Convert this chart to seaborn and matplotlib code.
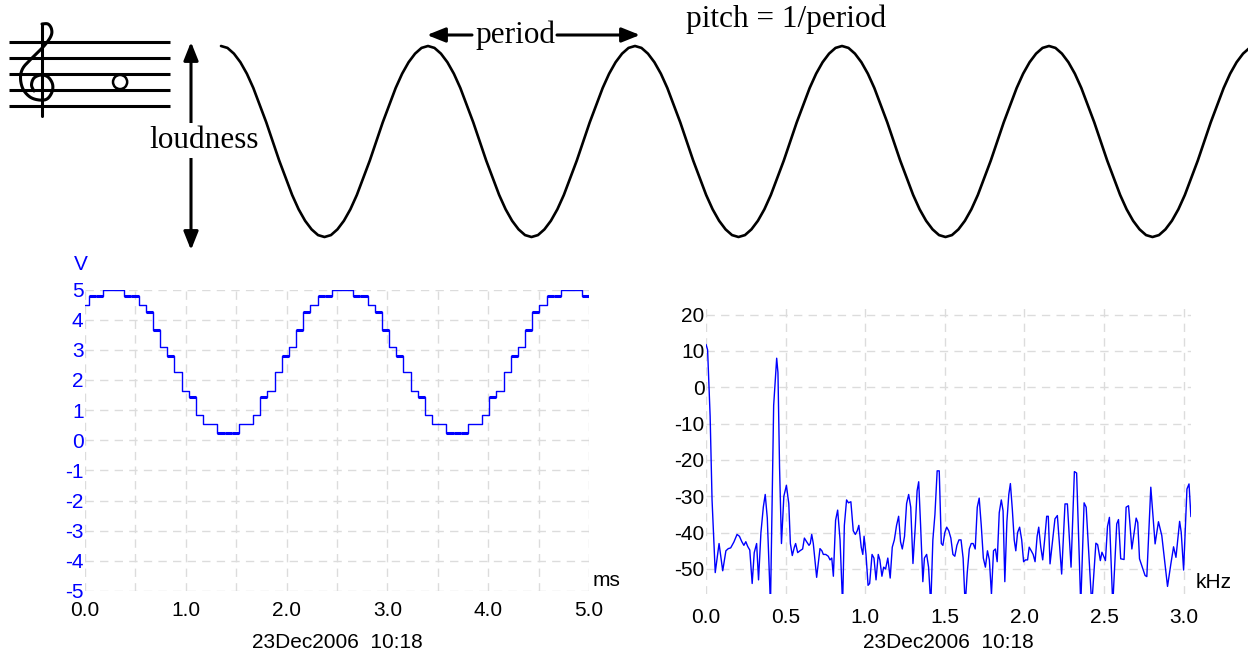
import numpy as np
import matplotlib
matplotlib.use("Agg")
import matplotlib.pyplot as plt
import seaborn as sns
import pandas as pd

#################################################################################
## DATA
# top sketch: one period of the drawn wave (normalised), tiled over 5 periods
half_cycle = [1.0, 0.98, 0.92, 0.83, 0.71, 0.56, 0.38, 0.20, 0.0,
              -0.20, -0.38, -0.56, -0.71, -0.83, -0.92, -0.98, -1.0]
n_periods = 5

# staff: lines E4 G4 B4 D5 F5 in staff steps, note A4 (440 Hz)
staff_lines = [0, 2, 4, 6, 8]
note_step = 3

# scope trace (V), one level per ADC sample
first_level = [4.5]
cycle_levels = [4.78, 4.78, 5.0, 5.0, 5.0, 4.78, 4.78, 4.5, 4.25, 3.65, 3.1, 2.8,
                2.25, 1.65, 1.45, 0.85, 0.55, 0.55, 0.25, 0.25, 0.25, 0.55, 0.55,
                0.85, 1.45, 1.65, 2.25, 2.8, 3.1, 3.65, 4.25, 4.5]
noisy_levels = [4.78, 4.25, 3.65, 2.8, 1.45, 0.25]
sample_ms = 0.0710
first_edge_ms = 0.035
scope_end_ms = 5.0

# spectrum (dB vs kHz)
freq_khz = [
    0.000, 0.010, 0.026, 0.038, 0.058, 0.082, 0.105, 0.125, 0.140, 0.155,
    0.175, 0.195, 0.210, 0.225, 0.238, 0.250, 0.262, 0.275, 0.290, 0.303,
    0.318, 0.330, 0.345, 0.360, 0.372, 0.385, 0.405, 0.425, 0.444, 0.452,
    0.462, 0.474, 0.489, 0.505, 0.520, 0.530, 0.542, 0.555, 0.563, 0.576,
    0.590, 0.607, 0.618, 0.632, 0.647, 0.655, 0.664, 0.674, 0.695, 0.716,
    0.728, 0.737, 0.752, 0.768, 0.779, 0.790, 0.800, 0.814, 0.827, 0.842,
    0.858, 0.869, 0.883, 0.895, 0.910, 0.925, 0.938, 0.950, 0.960, 0.975,
    0.985, 0.993, 1.005, 1.018, 1.028, 1.043, 1.055, 1.068, 1.082, 1.092,
    1.105, 1.116, 1.128, 1.142, 1.157, 1.170, 1.183, 1.197, 1.210, 1.222,
    1.233, 1.247, 1.260, 1.273, 1.286, 1.300, 1.315, 1.326, 1.336, 1.348,
    1.362, 1.372, 1.386, 1.398, 1.412, 1.425, 1.438, 1.452, 1.465, 1.478,
    1.488, 1.500, 1.512, 1.525, 1.538, 1.551, 1.563, 1.576, 1.589, 1.602,
    1.615, 1.628, 1.641, 1.654, 1.666, 1.678, 1.691, 1.704, 1.716, 1.729,
    1.742, 1.755, 1.768, 1.780, 1.793, 1.806, 1.818, 1.829, 1.842, 1.855,
    1.866, 1.877, 1.890, 1.902, 1.912, 1.924, 1.936, 1.946, 1.957, 1.970,
    1.983, 1.995, 2.007, 2.020, 2.030, 2.043, 2.055, 2.067, 2.080, 2.090,
    2.103, 2.115, 2.127, 2.140, 2.150, 2.161, 2.192, 2.207, 2.234, 2.255,
    2.270, 2.293, 2.314, 2.328, 2.354, 2.375, 2.388, 2.423, 2.449, 2.460,
    2.477, 2.487, 2.501, 2.509, 2.522, 2.534, 2.555, 2.580, 2.591, 2.605,
    2.626, 2.639, 2.654, 2.675, 2.702, 2.712, 2.723, 2.758, 2.769, 2.794,
    2.821, 2.842, 2.863, 2.899, 2.920, 2.937, 2.952, 2.975, 2.985, 3.000,
    3.021, 3.034, 3.046]
level_db = [
    11.8, 10.3, -8, -31, -51, -43, -50.5, -45, -44.4, -44.2,
    -42.6, -40.5, -41, -42.5, -43.5, -42.5, -43.8, -44.8, -54, -45.5,
    -43, -53, -40, -33, -29.5, -36, -60, -5, 8, 4,
    -22, -43, -30, -27, -32, -43, -46.3, -44, -43, -45.5,
    -45, -44.5, -41.5, -42.5, -43.5, -43, -40.5, -43, -52.3, -44.4,
    -45, -46, -46, -46.5, -47.5, -47, -52, -36.6, -33.8, -42,
    -60, -38, -31, -31.8, -31.5, -39.5, -40.5, -39.5, -38, -44,
    -46, -41, -46, -54.5, -54, -46, -47, -53, -46, -47.5,
    -52, -49.5, -50, -47, -52.5, -44, -42, -38, -35.5, -42.5,
    -44.5, -41, -32, -29.5, -33, -48.5, -38, -28.5, -26, -38,
    -53.5, -47, -46, -49.5, -60, -42, -35, -23, -23, -43,
    -43.5, -40, -38.5, -39.5, -41.5, -46, -46.5, -43.5, -42, -42,
    -47, -60, -51, -44.5, -43, -43, -44.5, -33, -30.5, -38,
    -47, -49.5, -45, -47.5, -57, -45, -44.5, -48, -34.5, -31,
    -34, -53.5, -37, -29.5, -26.5, -33.5, -42, -45, -40, -38.5,
    -42, -48, -47.5, -47.5, -44, -45, -46, -48, -41, -38.5,
    -44, -47.5, -42, -35.5, -35.5, -48.6, -36.2, -35.3, -51.4, -32.1,
    -32.1, -49.5, -23.2, -23.6, -60, -31.8, -33, -60, -42.9, -43.3,
    -47.7, -45.4, -46.8, -47.7, -38.3, -35.8, -60, -37.6, -36.4, -47.2,
    -47.4, -33, -32.6, -44.5, -36, -37.2, -47.2, -51.8, -52.1, -27.5,
    -43.1, -37, -40.8, -54.8, -48.6, -43.9, -46.8, -36.9, -39.9, -50.3,
    -28, -26.6, -35.6]

time_ticks = np.arange(0, 5.01, 0.5)
volt_ticks = np.arange(-5, 6, 1)
khz_ticks = np.arange(0, 3.01, 0.5)
db_ticks = np.arange(-50, 21, 10)
stamp = "23Dec2006  10:18"

#################################################################################
## STYLE
sns.set_style("white")
plt.rcParams["font.family"] = ["Liberation Sans", "DejaVu Sans"]
plt.rcParams["text.color"] = "black"
plt.rcParams["xtick.color"] = "black"
plt.rcParams["ytick.color"] = "black"
BLUE = "#0000ff"
GRID = "#dcdcdc"
SERIF = ["Liberation Serif", "DejaVu Serif"]

W, H = 1248, 657
fig = plt.figure(figsize=(W / 100, H / 100), dpi=100)


def px_axes(x0, y0, x1, y1):
    # axes placed by a pixel box measured from the top-left corner
    return fig.add_axes([x0 / W, 1 - y1 / H, (x1 - x0) / W, (y1 - y0) / H])


def grid_style(ax):
    ax.set_axisbelow(True)
    ax.grid(True, color=GRID, linestyle=(0, (6, 4.5)), linewidth=1.0)
    sns.despine(ax=ax, left=True, bottom=True)


#################################################################################
## top wave
cycle = half_cycle + half_cycle[-2:0:-1]
wave_y = cycle * n_periods + [half_cycle[0]]
wave = pd.DataFrame({"phase": np.arange(len(wave_y)) / len(cycle), "y": wave_y})
axw = px_axes(221, 46, 221 + 207 * n_periods, 237)
sns.lineplot(data=wave, x="phase", y="y", ax=axw, color="black", lw=1.9,
             sort=False, clip_on=False)
axw.set_xlim(0, n_periods)
axw.set_ylim(-1, 1)
axw.axis("off")

## staff + note
axs = px_axes(9, 42, 170, 106)
axs.hlines(staff_lines, 0, 1, color="black", lw=2.2, clip_on=False)
sns.scatterplot(x=[0.69], y=[note_step], ax=axs, s=104, marker="o",
                facecolor="none", edgecolor="black", linewidth=1.8, clip_on=False)
axs.set_xlim(0, 1)
axs.set_ylim(0, 8)
axs.axis("off")

#################################################################################
## scope trace
levels = first_level + cycle_levels + cycle_levels + cycle_levels[:6]
edges = [0.0] + [first_edge_ms + k * sample_ms for k in range(len(levels) - 1)] + [scope_end_ms]
edges = np.minimum(edges, scope_end_ms)
scope = pd.DataFrame({"t": edges, "v": levels + [levels[-1]]})

ax1 = px_axes(85, 289.5, 589, 591)
grid_style(ax1)
sns.lineplot(data=scope, x="t", y="v", ax=ax1, color=BLUE, lw=1.0,
             drawstyle="steps-post", sort=False)
for i, lev in enumerate(levels):
    if lev in noisy_levels:
        ax1.hlines(lev, edges[i], edges[i + 1], color=BLUE, lw=2.2)
ax1.set_xlim(0, 5)
ax1.set_ylim(-5, 5)
ax1.set_xticks(time_ticks)
ax1.set_xticklabels([f"{t:.1f}" if t % 1 == 0 else "" for t in time_ticks])
ax1.set_yticks(volt_ticks)
ax1.set_yticklabels([str(v) for v in volt_ticks])
ax1.tick_params(axis="x", length=0, pad=7, labelsize=15, labelcolor="black")
ax1.tick_params(axis="y", length=0, pad=1, labelsize=15, labelcolor=BLUE)
ax1.set_xlabel("")
ax1.set_ylabel("")

## spectrum
spec = pd.DataFrame({"f": freq_khz, "db": level_db})
ax2 = px_axes(706, 303.7, 706 + 159.2 * 3.046, 594.4)
grid_style(ax2)
sns.lineplot(data=spec, x="f", y="db", ax=ax2, color=BLUE, lw=1.0, sort=False)
ax2.set_xlim(0, 3.046)
ax2.set_ylim(-57, 23)
ax2.set_xticks(khz_ticks)
ax2.set_xticklabels([f"{f:.1f}" for f in khz_ticks])
ax2.set_yticks(db_ticks)
ax2.set_yticklabels([str(d) for d in db_ticks])
ax2.tick_params(axis="x", length=0, pad=9.5, labelsize=15, labelcolor="black")
ax2.tick_params(axis="y", length=0, pad=1, labelsize=15, labelcolor="black")
ax2.set_xlabel("")
ax2.set_ylabel("")

#################################################################################
## annotations in pixel space
ov = fig.add_axes([0, 0, 1, 1], facecolor="none")
ov.set_xlim(0, W)
ov.set_ylim(H, 0)
ov.axis("off")


def smooth(pts, n=10):
    # Catmull-Rom through the outline points of the clef
    p = np.asarray(pts, float)
    p = np.vstack([p[0], p, p[-1]])
    out = []
    for i in range(1, len(p) - 2):
        p0, p1, p2, p3 = p[i - 1], p[i], p[i + 1], p[i + 2]
        for s in np.linspace(0, 1, n, endpoint=False):
            out.append(0.5 * (2 * p1 + (-p0 + p2) * s + (2 * p0 - 5 * p1 + 4 * p2 - p3) * s ** 2
                              + (-p0 + 3 * p1 - 3 * p2 + p3) * s ** 3))
    out.append(p[-2])
    return np.array(out)


clef = smooth([(42, 24), (48, 24), (51.5, 29), (51, 36), (44, 46), (32, 58), (23, 68),
               (20.5, 78), (23, 89), (30, 97), (39, 100), (47, 99), (52, 92), (52.5, 84),
               (48, 77), (41, 75), (34, 78), (31.5, 85), (34, 91)])
ov.plot(clef[:, 0], clef[:, 1], color="black", lw=2.2, solid_capstyle="round")
ov.plot([42, 42], [24, 116], color="black", lw=2.2)

head = "-|>,head_length=0.55,head_width=0.22"
both = "<|-|>,head_length=0.55,head_width=0.22"
ov.annotate("", xy=(191, 42), xytext=(191, 250),
            arrowprops=dict(arrowstyle=both, lw=2.2, color="black", mutation_scale=20,
                            shrinkA=0, shrinkB=0))
ov.text(204, 148, "loudness", family=SERIF, fontsize=22.5, color="black",
        ha="center", va="baseline", bbox=dict(fc="white", ec="none", pad=2), zorder=5)
ov.annotate("", xy=(427, 35), xytext=(472, 35),
            arrowprops=dict(arrowstyle=head, lw=2.2, color="black", mutation_scale=20,
                            shrinkA=0, shrinkB=0))
ov.annotate("", xy=(640, 35), xytext=(557, 35),
            arrowprops=dict(arrowstyle=head, lw=2.2, color="black", mutation_scale=20,
                            shrinkA=0, shrinkB=0))
ov.text(515, 43, "period", family=SERIF, fontsize=22.5, color="black",
        ha="center", va="baseline")
ov.text(786, 27.5, "pitch = 1/period", family=SERIF, fontsize=22.5, color="black",
        ha="center", va="baseline")

ov.text(80.5, 264, "V", color=BLUE, fontsize=15, ha="center", va="center")
ov.text(593, 580, "ms", fontsize=15, color="black", ha="left", va="center")
ov.text(1196, 583, "kHz", fontsize=15, color="black", ha="left", va="center")
ov.text(337, 643, stamp, fontsize=15, color="black", ha="center", va="center")
ov.text(948, 643, stamp, fontsize=15, color="black", ha="center", va="center")

fig.savefig("out.png", dpi=100)
